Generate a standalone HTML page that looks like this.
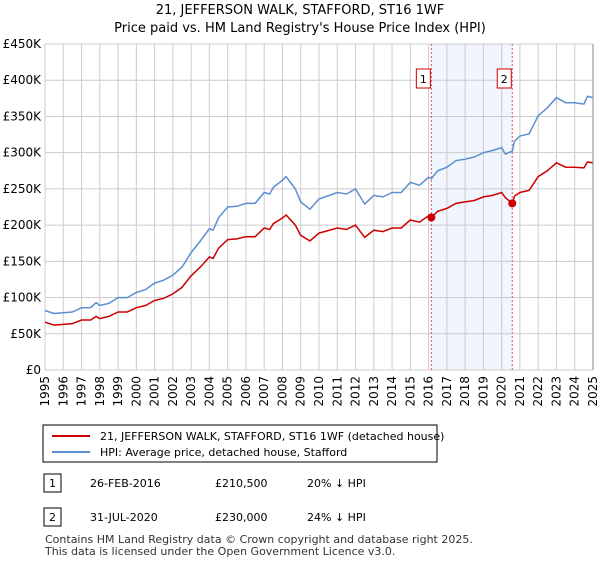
<!DOCTYPE html>
<html><head><meta charset="utf-8"><style>
body{margin:0;background:#fff;font-family:"Liberation Sans","DejaVu Sans",sans-serif;}
svg text{font-family:"DejaVu Sans","Liberation Sans",sans-serif;}
</style></head><body>
<svg id="c" width="600" height="560" xmlns="http://www.w3.org/2000/svg">
<text x="300" y="14" text-anchor="middle" font-size="13" fill="#000">21, JEFFERSON WALK, STAFFORD, ST16 1WF</text>
<text x="300" y="32" text-anchor="middle" font-size="13" fill="#000">Price paid vs. HM Land Registry's House Price Index (HPI)</text>
<g id="grid"></g><g id="marks"></g>
<rect x="43" y="425" width="394" height="37" fill="#fff" stroke="#000" stroke-width="1"/>
<line x1="52" y1="436" x2="90" y2="436" stroke="#cc0000" stroke-width="2"/>
<text x="100" y="440" font-size="11">21, JEFFERSON WALK, STAFFORD, ST16 1WF (detached house)</text>
<line x1="52" y1="452" x2="90" y2="452" stroke="#5b8fd1" stroke-width="2"/>
<text x="100" y="456" font-size="11">HPI: Average price, detached house, Stafford</text>
<g>
<rect x="44" y="474" width="17" height="18" fill="#fff" stroke="#000"/><text x="52.5" y="487" text-anchor="middle" font-size="11">1</text>
<text x="90" y="487" font-size="11">26-FEB-2016</text><text x="215" y="487" font-size="11">£210,500</text><text x="307" y="487" font-size="11">20% ↓ HPI</text></g>
<g>
<rect x="44" y="508" width="17" height="18" fill="#fff" stroke="#000"/><text x="52.5" y="521" text-anchor="middle" font-size="11">2</text>
<text x="90" y="521" font-size="11">31-JUL-2020</text><text x="215" y="521" font-size="11">£230,000</text><text x="307" y="521" font-size="11">24% ↓ HPI</text></g>
<text x="45" y="543" font-size="11" fill="#333">Contains HM Land Registry data © Crown copyright and database right 2025.</text>
<text x="45" y="555" font-size="11" fill="#333">This data is licensed under the Open Government Licence v3.0.</text>
</svg>
<script>
const times=[1995,1995.5,1996,1996.5,1997,1997.5,1997.8,1998,1998.5,1999,1999.5,2000,2000.5,2001,2001.5,2002,2002.5,2003,2003.5,2004,2004.2,2004.5,2005,2005.5,2006,2006.5,2007,2007.3,2007.5,2008,2008.2,2008.7,2009,2009.5,2010,2011,2011.5,2012,2012.5,2013,2013.5,2014,2014.5,2015,2015.5,2016,2016.15,2016.5,2017,2017.5,2018,2018.5,2019,2019.5,2020,2020.2,2020.58,2020.7,2021,2021.5,2022,2022.5,2023,2023.5,2024,2024.5,2024.7,2025];
const hpi=[82,78,79,80,86,86,93,89,92,100,100,107,111,120,124,131,142,162,178,195,193,210,225,226,230,230,245,243,252,262,267,250,232,222,236,245,243,250,229,241,239,245,245,259,255,266,264,275,280,289,291,294,300,303,307,298,302,316,323,326,351,362,376,369,369,367,378,376];
const price=[66,62,63,64,69,69,74,71,74,80,80,86,89,96,99,105,114,130,142,156,154,168,180,181,184,184,196,194,202,210,214,200,186,178,189,196,194,200,183,193,191,196,196,207,204,213,210.5,219,223,230,232,234,239,241,245,238,230,240,245,248,267,275,286,280,280,279,287,286];
const saleTimes=[2016.15,2020.58];
const saleValues=[210.5,230];
const saleLabels=["1","2"];
const yTicks=[0,50,100,150,200,250,300,350,400,450];
const yTickLabels=["£0","£50K","£100K","£150K","£200K","£250K","£300K","£350K","£400K","£450K"];
const xYears=[1995,1996,1997,1998,1999,2000,2001,2002,2003,2004,2005,2006,2007,2008,2009,2010,2011,2012,2013,2014,2015,2016,2017,2018,2019,2020,2021,2022,2023,2024,2025];
const X0=45,X1=593,Y0=370,Y1=44;
const sx=t=>X0+(t-1995)/30*(X1-X0);
const sy=v=>Y0-v/450*(Y0-Y1);
const NS="http://www.w3.org/2000/svg";
const g=document.getElementById('grid'),m=document.getElementById('marks');
function mk(tag,attrs,parent){const e=document.createElementNS(NS,tag);for(const k in attrs)e.setAttribute(k,attrs[k]);parent.appendChild(e);return e;}
const band=mk('rect',{x:sx(saleTimes[0]),y:Y1,width:sx(saleTimes[1])-sx(saleTimes[0]),height:Y0-Y1,fill:'#eef3fc',opacity:0.8},g);


yTicks.forEach((v,i)=>{
 const l=mk('line',{x1:X0,x2:X1,y1:sy(v),y2:sy(v),stroke:'#cccccc','stroke-width':1},g);
 
 
 const t=mk('text',{x:X0-4,y:sy(v)+4,'text-anchor':'end','font-size':12,fill:'#000'},g);t.textContent=yTickLabels[i];
 
 
});
xYears.forEach(y=>{
 const l=mk('line',{x1:sx(y),x2:sx(y),y1:Y1,y2:Y0,stroke:'#cccccc','stroke-width':1},g);
 
 
 const t=mk('text',{x:0,y:0,'text-anchor':'end','font-size':12,fill:'#000',transform:`translate(${sx(y)+4},${Y0+6}) rotate(-90)`},g);t.textContent=y;
 
 
});
saleTimes.forEach((t,i)=>{
 const l=mk('line',{x1:sx(t),x2:sx(t),y1:Y1,y2:Y0,stroke:'#e05555','stroke-width':1,'stroke-dasharray':'2,2'},m);
 
 
 const r=mk('rect',{x:sx(t)-15,y:69,width:14,height:19,fill:'#fff',stroke:'#cc0000'},m);
 
 
 const tx=mk('text',{x:sx(t)-8,y:83,'text-anchor':'middle','font-size':11},m);tx.textContent=saleLabels[i];
 
 
});
const pts=a=>a.map((v,i)=>sx(times[i]).toFixed(1)+','+sy(v).toFixed(1)).join(' ');
const hl=mk('polyline',{points:pts(hpi),fill:'none',stroke:'#5b8fd1','stroke-width':1.5},m);


const pl=mk('polyline',{points:pts(price),fill:'none',stroke:'#cc0000','stroke-width':1.5},m);


saleTimes.forEach((t,i)=>{
 const c=mk('circle',{cx:sx(t),cy:sy(saleValues[i]),r:4,fill:'#cc0000'},m);
 
 
});
const ax=mk('line',{x1:X1,x2:X1,y1:Y1,y2:Y0,stroke:'#888','stroke-width':1},m);


</script>
</body></html>
